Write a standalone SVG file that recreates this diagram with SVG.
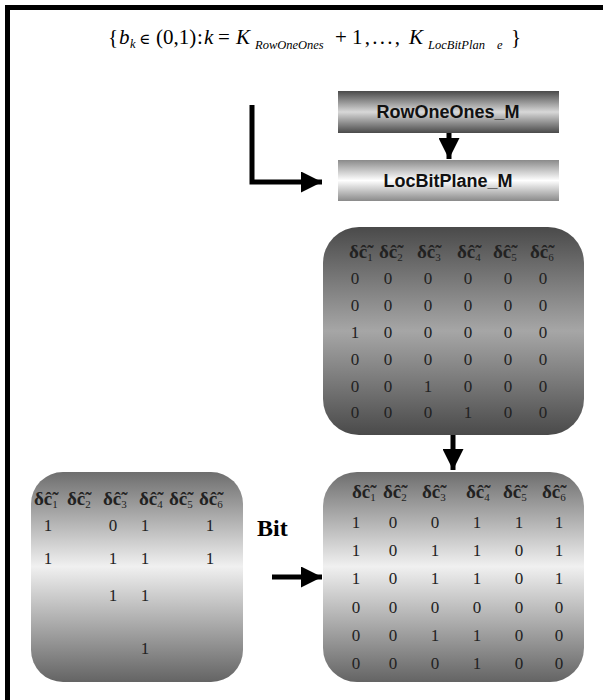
<svg xmlns="http://www.w3.org/2000/svg" width="603" height="700" viewBox="0 0 603 700">
<style>
.num{font-family:"Liberation Serif",serif;font-size:17px;fill:#222;text-anchor:middle}
.hdr{font-family:"Liberation Serif",serif;font-size:19px;font-weight:bold;fill:#222}
.sub{font-size:11px;font-weight:normal}
.lbl{font-family:"Liberation Sans",Arial,sans-serif;font-size:18px;font-weight:bold;fill:#111;text-anchor:middle}
.math{font-family:"Liberation Serif",serif;font-size:21px;fill:#000}
.it{font-style:italic}
.ms{font-style:italic;font-size:12.5px}
.conn{stroke:#000;stroke-width:5;fill:none}
</style>
<defs>
<linearGradient id="gDark" x1="0" y1="0" x2="0" y2="1">
<stop offset="0" stop-color="#4a4a4a"/><stop offset="0.5" stop-color="#a6a6a6"/><stop offset="1" stop-color="#4a4a4a"/>
</linearGradient>
<linearGradient id="gLight" x1="0" y1="0" x2="0" y2="1">
<stop offset="0" stop-color="#6e6e6e"/><stop offset="0.45" stop-color="#f0f0f0"/><stop offset="1" stop-color="#646464"/>
</linearGradient>
<linearGradient id="gBar1" x1="0" y1="0" x2="0" y2="1">
<stop offset="0" stop-color="#4a4a4a"/><stop offset="0.5" stop-color="#d8d8d8"/><stop offset="1" stop-color="#4a4a4a"/>
</linearGradient>
<linearGradient id="gBar2" x1="0" y1="0" x2="0" y2="1">
<stop offset="0" stop-color="#8a8a8a"/><stop offset="0.5" stop-color="#ffffff"/><stop offset="1" stop-color="#8a8a8a"/>
</linearGradient>
<marker id="ah" viewBox="0 0 10 10" refX="10" refY="5" markerWidth="4.2" markerHeight="4.2" markerUnits="strokeWidth" orient="auto">
<path d="M0,0 L10,5 L0,10 z" fill="#000"/>
</marker>
</defs>
<rect width="603" height="700" fill="#fff"/>
<path d="M7.5,705 V7.5 H610" stroke="#000" stroke-width="5" fill="none"/>

<text class="math" y="44"><tspan x="108">{</tspan><tspan class="it" x="119">b</tspan><tspan class="ms" x="130" dy="4">k</tspan><tspan x="139" dy="-4" font-family="'DejaVu Serif',serif" font-size="15">∈</tspan><tspan x="156">(0,1)</tspan><tspan x="197">:</tspan><tspan class="it" x="204">k</tspan><tspan x="218">=</tspan><tspan class="it" x="236">K</tspan><tspan class="ms" x="255" dy="5">RowOneOnes</tspan><tspan x="335" dy="-5">+</tspan><tspan x="352" textLength="48" lengthAdjust="spacing">1,...,</tspan><tspan class="it" x="409">K</tspan><tspan class="ms" x="428" dy="5" font-size="13.5">LocBitPlan</tspan><tspan class="ms" x="497" font-size="13.5">e</tspan><tspan x="511" dy="-5">}</tspan></text>

<g id="connectors">
<path class="conn" d="M252,105 V182 H322" marker-end="url(#ah)"/>
<path class="conn" d="M449,133 V159" marker-end="url(#ah)"/>
<path class="conn" d="M453,435 V470" marker-end="url(#ah)"/>
<path class="conn" d="M272,577 H322" marker-end="url(#ah)"/>
</g>

<g id="rowoneones">
<rect x="338" y="91" width="221" height="42" fill="url(#gBar1)"/>
<text class="lbl" x="448" y="118">RowOneOnes_M</text>
</g>
<g id="locbitplane">
<rect x="338" y="160" width="221" height="41" fill="url(#gBar2)"/>
<text class="lbl" x="448" y="187">LocBitPlane_M</text>
</g>

<g id="matrix-top">
<rect x="323" y="227" width="261" height="208" rx="36" fill="url(#gDark)"/>
<text class="hdr" y="258"><tspan x="349">δĉ̃<tspan class="sub" dy="3">1</tspan></tspan><tspan x="379" dy="-3">δĉ̃<tspan class="sub" dy="3">2</tspan></tspan><tspan x="417" dy="-3">δĉ̃<tspan class="sub" dy="3">3</tspan></tspan><tspan x="457" dy="-3">δĉ̃<tspan class="sub" dy="3">4</tspan></tspan><tspan x="493" dy="-3">δĉ̃<tspan class="sub" dy="3">5</tspan></tspan><tspan x="530" dy="-3">δĉ̃<tspan class="sub" dy="3">6</tspan></tspan></text>
<g class="num">
<text y="284"><tspan x="355">0</tspan><tspan x="388">0</tspan><tspan x="428">0</tspan><tspan x="468">0</tspan><tspan x="508">0</tspan><tspan x="543">0</tspan></text>
<text y="311"><tspan x="355">0</tspan><tspan x="388">0</tspan><tspan x="428">0</tspan><tspan x="468">0</tspan><tspan x="508">0</tspan><tspan x="543">0</tspan></text>
<text y="338"><tspan x="355">1</tspan><tspan x="388">0</tspan><tspan x="428">0</tspan><tspan x="468">0</tspan><tspan x="508">0</tspan><tspan x="543">0</tspan></text>
<text y="365"><tspan x="355">0</tspan><tspan x="388">0</tspan><tspan x="428">0</tspan><tspan x="468">0</tspan><tspan x="508">0</tspan><tspan x="543">0</tspan></text>
<text y="392"><tspan x="355">0</tspan><tspan x="388">0</tspan><tspan x="428">1</tspan><tspan x="468">0</tspan><tspan x="508">0</tspan><tspan x="543">0</tspan></text>
<text y="418"><tspan x="355">0</tspan><tspan x="388">0</tspan><tspan x="428">0</tspan><tspan x="468">1</tspan><tspan x="508">0</tspan><tspan x="543">0</tspan></text>
</g>
</g>

<g id="matrix-left">
<rect x="31" y="472" width="212" height="210" rx="32" fill="url(#gLight)"/>
<text class="hdr" y="505"><tspan x="34">δĉ̃<tspan class="sub" dy="3">1</tspan></tspan><tspan x="67" dy="-3">δĉ̃<tspan class="sub" dy="3">2</tspan></tspan><tspan x="103" dy="-3">δĉ̃<tspan class="sub" dy="3">3</tspan></tspan><tspan x="139" dy="-3">δĉ̃<tspan class="sub" dy="3">4</tspan></tspan><tspan x="169" dy="-3">δĉ̃<tspan class="sub" dy="3">5</tspan></tspan><tspan x="199" dy="-3">δĉ̃<tspan class="sub" dy="3">6</tspan></tspan></text>
<g class="num">
<text y="531"><tspan x="48">1</tspan><tspan x="113">0</tspan><tspan x="145">1</tspan><tspan x="210">1</tspan></text>
<text y="564"><tspan x="48">1</tspan><tspan x="113">1</tspan><tspan x="145">1</tspan><tspan x="210">1</tspan></text>
<text y="601"><tspan x="113">1</tspan><tspan x="145">1</tspan></text>
<text y="654"><tspan x="145">1</tspan></text>
</g>
</g>

<g id="bit-label">
<text x="257" y="536" font-family="'Liberation Serif',serif" font-size="24" font-weight="bold" fill="#000">Bit</text>
</g>

<g id="matrix-bottom">
<rect x="323" y="472" width="261" height="210" rx="34" fill="url(#gLight)"/>
<text class="hdr" y="498"><tspan x="352">δĉ̃<tspan class="sub" dy="3">1</tspan></tspan><tspan x="383" dy="-3">δĉ̃<tspan class="sub" dy="3">2</tspan></tspan><tspan x="422" dy="-3">δĉ̃<tspan class="sub" dy="3">3</tspan></tspan><tspan x="466" dy="-3">δĉ̃<tspan class="sub" dy="3">4</tspan></tspan><tspan x="503" dy="-3">δĉ̃<tspan class="sub" dy="3">5</tspan></tspan><tspan x="542" dy="-3">δĉ̃<tspan class="sub" dy="3">6</tspan></tspan></text>
<g class="num">
<text y="528"><tspan x="356">1</tspan><tspan x="393">0</tspan><tspan x="435">0</tspan><tspan x="477">1</tspan><tspan x="519">1</tspan><tspan x="559">1</tspan></text>
<text y="556"><tspan x="356">1</tspan><tspan x="393">0</tspan><tspan x="435">1</tspan><tspan x="477">1</tspan><tspan x="519">0</tspan><tspan x="559">1</tspan></text>
<text y="584"><tspan x="356">1</tspan><tspan x="393">0</tspan><tspan x="435">1</tspan><tspan x="477">1</tspan><tspan x="519">0</tspan><tspan x="559">1</tspan></text>
<text y="613"><tspan x="356">0</tspan><tspan x="393">0</tspan><tspan x="435">0</tspan><tspan x="477">0</tspan><tspan x="519">0</tspan><tspan x="559">0</tspan></text>
<text y="641"><tspan x="356">0</tspan><tspan x="393">0</tspan><tspan x="435">1</tspan><tspan x="477">1</tspan><tspan x="519">0</tspan><tspan x="559">0</tspan></text>
<text y="669"><tspan x="356">0</tspan><tspan x="393">0</tspan><tspan x="435">0</tspan><tspan x="477">1</tspan><tspan x="519">0</tspan><tspan x="559">0</tspan></text>
</g>
</g>
</svg>
